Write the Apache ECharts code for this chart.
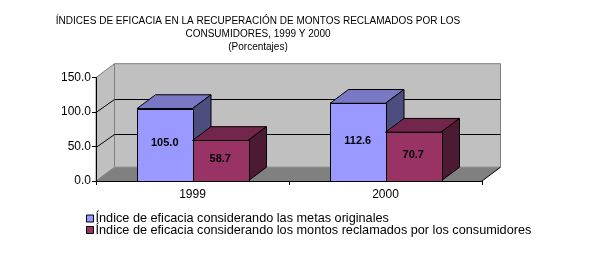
<!DOCTYPE html>
<html><head><meta charset="utf-8">
<script src="https://cdn.jsdelivr.net/npm/echarts@6/dist/echarts.min.js"></script>
<style>html,body{margin:0;padding:0;background:#fff}#c{width:589px;height:259px}</style>
</head><body><div id="c"></div>
<script>
const titleText = 'ÍNDICES DE EFICACIA EN LA RECUPERACIÓN DE MONTOS RECLAMADOS POR LOS\nCONSUMIDORES, 1999 Y 2000\n(Porcentajes)';
const categories = ['1999', '2000'];
const seriesNames = [
  'Índice de eficacia considerando las metas originales',
  'Índice de eficacia considerando los montos reclamados por los consumidores'
];
const metasOriginales = [105.0, 112.6];
const montosReclamados = [58.7, 70.7];
const yTicks = [0, 50, 100, 150];

const DX = 18.5, DY = 13.8, BAR_FRAC = 0.2876;
const FONT = 'Liberation Sans, Arial, sans-serif';
const px = v => Math.round(v) + 0.5;

function frameItem(params, api) {
  const cs = params.coordSys;
  const L = cs.x, R = cs.x + cs.width;
  const yOf = v => api.coord([0, v])[1];
  const yTop = yOf(yTicks[yTicks.length - 1]), yBot = yOf(yTicks[0]);
  const children = [];
  children.push({type:'polygon', shape:{points:[[L+DX,yTop-DY],[R+DX,yTop-DY],[R+DX,yBot-DY],[L+DX,yBot-DY]]},
    style:{fill:'#C0C0C0', stroke:'#808080', lineWidth:1}});
  children.push({type:'polygon', shape:{points:[[L,yTop],[L+DX,yTop-DY],[L+DX,yBot-DY],[L,yBot]]},
    style:{fill:'#C0C0C0', stroke:'#808080', lineWidth:1}});
  yTicks.slice(1, -1).forEach(v => {
    const y = px(yOf(v));
    children.push({type:'polyline', shape:{points:[[L, y],[L+DX, px(y-DY)],[R+DX, px(y-DY)]]},
      style:{stroke:'#000', lineWidth:1, fill:null}});
  });
  children.push({type:'polygon', shape:{points:[[L,yBot],[R,yBot],[R+DX,yBot-DY],[L+DX,yBot-DY]]},
    style:{fill:'#808080'}});
  children.push({type:'line', shape:{x1:R, y1:yBot, x2:R+DX, y2:yBot-DY}, style:{stroke:'#000', lineWidth:1}});
  return {type:'group', children};
}

function makeBar(side, front, topC, sideC) {
  return function(params, api) {
    const cat = api.value(0), val = api.value(1);
    const t = api.coord([cat, val]), b = api.coord([cat, 0]);
    const w = api.size([1, 0])[0] * BAR_FRAC;
    const x0 = side < 0 ? t[0] - w : t[0];
    const x1 = x0 + w, yt = t[1], yb = b[1];
    const st = {stroke:'#000', lineWidth:1};
    return {type:'group', children:[
      {type:'polygon', shape:{points:[[x0,yt],[x1,yt],[x1+DX,yt-DY],[x0+DX,yt-DY]]}, style:Object.assign({fill:topC}, st)},
      {type:'polygon', shape:{points:[[x1,yt],[x1,yb],[x1+DX,yb-DY],[x1+DX,yt-DY]]}, style:Object.assign({fill:sideC}, st)},
      {type:'rect', shape:{x:px(x0), y:px(yt), width:Math.round(w), height:Math.round(yb-yt)}, style:Object.assign({fill:front}, st)},
      {type:'text', style:{text:val.toFixed(1), x:(x0+x1)/2, y:(yt+yb)/2 - 1.5, align:'center', verticalAlign:'middle',
        font:'bold 11px ' + FONT, fill:'#000'}}
    ]};
  };
}

const chart = echarts.init(document.getElementById('c'), null, {renderer:'canvas'});
chart.setOption({
  animation:false,
  backgroundColor:'#fff',
  title:{text:titleText, left:253, top:9.5, textAlign:'center',
    textStyle:{fontFamily:FONT, fontSize:10, fontWeight:'normal', color:'#000', lineHeight:13}},
  grid:{left:96, right:107, top:77.5, bottom:78, containLabel:false},
  legend:{orient:'vertical', left:86, top:212, padding:0, itemWidth:7, itemHeight:7, itemGap:-1.5, icon:'rect',
    itemStyle:{borderColor:'#000', borderWidth:1},
    textStyle:{fontFamily:FONT, fontSize:12.7, color:'#000', lineHeight:12, padding:[0,0,0,-3]},
    data:seriesNames},
  xAxis:{type:'category', data:categories, z:5,
    axisLine:{lineStyle:{color:'#000', width:1}},
    axisTick:{show:true, length:4, lineStyle:{color:'#000'}},
    axisLabel:{fontFamily:FONT, fontSize:12, color:'#000', margin:8}},
  yAxis:{type:'value', min:0, max:150, interval:50, z:5,
    axisLine:{show:true, lineStyle:{color:'#000', width:1}},
    axisTick:{show:true, length:4, lineStyle:{color:'#000'}},
    splitLine:{show:false},
    axisLabel:{fontFamily:FONT, fontSize:12, color:'#000', margin:5, formatter:v => v.toFixed(1)}},
  series:[
    {type:'custom', name:'frame', z:1, silent:true, renderItem:frameItem, data:[[0,0]], encode:{x:0,y:1}},
    {type:'custom', name:seriesNames[0], z:2, renderItem:makeBar(-1,'#9999FF','#7878C4','#4D4D80'),
      itemStyle:{color:'#9999FF', borderColor:'#000', borderWidth:1},
      data:metasOriginales.map((v,i)=>[i,v]), encode:{x:0,y:1}},
    {type:'custom', name:seriesNames[1], z:3, renderItem:makeBar(1,'#993366','#73264C','#4D1A33'),
      itemStyle:{color:'#993366', borderColor:'#000', borderWidth:1},
      data:montosReclamados.map((v,i)=>[i,v]), encode:{x:0,y:1}}
  ]
});
</script></body></html>
